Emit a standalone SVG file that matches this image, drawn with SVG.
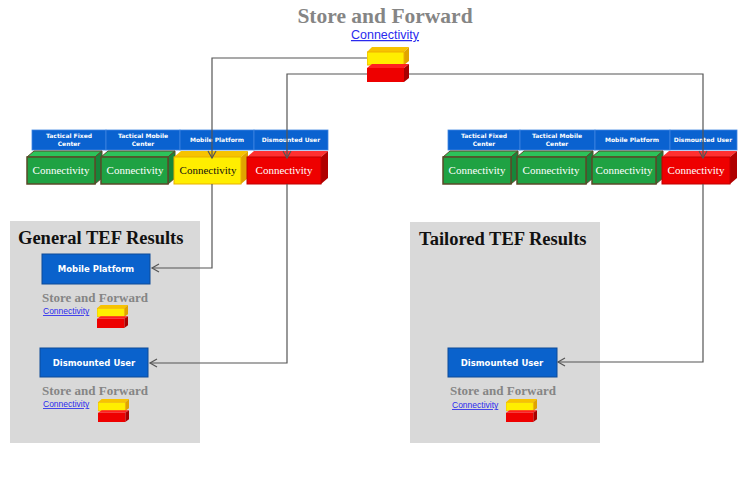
<svg xmlns="http://www.w3.org/2000/svg" xmlns:xlink="http://www.w3.org/1999/xlink" width="738" height="480" viewBox="0 0 738 480">
<style>
.title{font-family:"Liberation Serif",serif;font-weight:bold;fill:#858585}
.link{font-family:"Liberation Sans",Arial,sans-serif;fill:#2a2aee;text-decoration:underline}
.ptitle{font-family:"Liberation Serif",serif;font-weight:bold;font-size:18.5px;fill:#111}
.panel{fill:#d9d9d9}
.bluebox{fill:#0a62cc;stroke:#0c4a98;stroke-width:1}
.btext{font-family:"DejaVu Sans",sans-serif;font-weight:bold;font-size:8.5px;fill:#fff;text-anchor:middle}
.tab{fill:#0a62d0;stroke:#3f86e0;stroke-width:0.8}
.tabtext{font-family:"DejaVu Sans",sans-serif;font-weight:bold;font-size:6px;fill:#fff;text-anchor:middle}
.conn{fill:none;stroke:#555;stroke-width:1.2}
.btxt{font-family:"Liberation Serif",serif;font-size:11px;text-anchor:middle}
.gfront{fill:#1fa243;stroke:#5a4a28;stroke-width:1.5}
.gtop{fill:#2cc35a;stroke:#5a4a28;stroke-width:1}
.gside{fill:#16863a;stroke:#5a4a28;stroke-width:1}
.yfront{fill:#ffee00;stroke:#e8b000;stroke-width:1}
.ytop{fill:#f7c300}
.yside{fill:#e0a400}
.rfront{fill:#ee0000;stroke:#c00000;stroke-width:1}
.rtop{fill:#ff3030}
.rside{fill:#b00000}
</style>
<defs>
<marker id="arr" markerWidth="10" markerHeight="10" refX="8" refY="5" orient="auto" markerUnits="userSpaceOnUse">
<path d="M1,1 L8,5 L1,9" fill="none" stroke="#555" stroke-width="1.2"/>
</marker>
<symbol id="stack" viewBox="0 0 42 35" preserveAspectRatio="none">
<polygon points="0,5 5,0 42,0 37,5" fill="#f7c300"/>
<polygon points="37,5 42,0 42,14 37,18" fill="#e0a400"/>
<rect x="0" y="5" width="37" height="13" fill="#ffee00" stroke="#f0b000" stroke-width="1"/>
<polygon points="0,21 5,17 42,17 37,21" fill="#ff2020"/>
<polygon points="37,21 42,17 42,31 37,35" fill="#a80000"/>
<rect x="0" y="21" width="37" height="14" fill="#ee0000"/>
</symbol>
</defs>

<g id="header">
<text class="title" x="385" y="23" font-size="21.5" text-anchor="middle">Store and Forward</text>
<text class="link" x="385" y="39" font-size="12.5" text-anchor="middle">Connectivity</text>
<use xlink:href="#stack" href="#stack" x="367" y="47" width="42" height="35"/>
</g>

<g id="left-tabs">
<rect class="tab" x="32" y="130" width="74" height="20"/>
<text class="tabtext" x="69" y="138">Tactical Fixed</text>
<text class="tabtext" x="69" y="145.5">Center</text>
<rect class="tab" x="106" y="130" width="74" height="20"/>
<text class="tabtext" x="143" y="138">Tactical Mobile</text>
<text class="tabtext" x="143" y="145.5">Center</text>
<rect class="tab" x="180" y="130" width="74" height="20"/>
<text class="tabtext" x="217" y="142">Mobile Platform</text>
<rect class="tab" x="254" y="130" width="74" height="20"/>
<text class="tabtext" x="291" y="142">Dismounted User</text>
</g>

<g id="left-block-1">
<polygon class="gtop" points="27,157 34,151 102,151 95,157"/>
<polygon class="gside" points="95,157 102,151 102,178 95,184"/>
<rect class="gfront" x="27" y="157" width="68" height="27"/>
<text class="btxt" x="61" y="174" fill="#fff">Connectivity</text>
</g>
<g id="left-block-2">
<polygon class="gtop" points="101,157 108,151 175,151 168,157"/>
<polygon class="gside" points="168,157 175,151 175,178 168,184"/>
<rect class="gfront" x="101" y="157" width="67" height="27"/>
<text class="btxt" x="135" y="174" fill="#fff">Connectivity</text>
</g>
<g id="left-block-3">
<polygon class="ytop" points="174,157 181,151 248,151 241,157"/>
<polygon class="yside" points="241,157 248,151 248,178 241,184"/>
<rect class="yfront" x="174" y="157" width="67" height="27"/>
<text class="btxt" x="208" y="174" fill="#111">Connectivity</text>
</g>
<g id="left-block-4">
<polygon class="rtop" points="247,157 254,151 328,151 321,157"/>
<polygon class="rside" points="321,157 328,151 328,178 321,184"/>
<rect class="rfront" x="247" y="157" width="74" height="27"/>
<text class="btxt" x="284" y="174" fill="#fff">Connectivity</text>
</g>

<g id="right-tabs">
<rect class="tab" x="448" y="130" width="72" height="20"/>
<text class="tabtext" x="484" y="138">Tactical Fixed</text>
<text class="tabtext" x="484" y="145.5">Center</text>
<rect class="tab" x="520" y="130" width="75" height="20"/>
<text class="tabtext" x="557" y="138">Tactical Mobile</text>
<text class="tabtext" x="557" y="145.5">Center</text>
<rect class="tab" x="595" y="130" width="75" height="20"/>
<text class="tabtext" x="632" y="142">Mobile Platform</text>
<rect class="tab" x="670" y="130" width="67" height="20"/>
<text class="tabtext" x="703" y="142">Dismounted User</text>
</g>

<g id="right-block-1">
<polygon class="gtop" points="443,157 450,151 518,151 511,157"/>
<polygon class="gside" points="511,157 518,151 518,178 511,184"/>
<rect class="gfront" x="443" y="157" width="68" height="27"/>
<text class="btxt" x="477" y="174" fill="#fff">Connectivity</text>
</g>
<g id="right-block-2">
<polygon class="gtop" points="517,157 524,151 593,151 586,157"/>
<polygon class="gside" points="586,157 593,151 593,178 586,184"/>
<rect class="gfront" x="517" y="157" width="69" height="27"/>
<text class="btxt" x="551" y="174" fill="#fff">Connectivity</text>
</g>
<g id="right-block-3">
<polygon class="gtop" points="592,157 599,151 663,151 656,157"/>
<polygon class="gside" points="656,157 663,151 663,178 656,184"/>
<rect class="gfront" x="592" y="157" width="64" height="27"/>
<text class="btxt" x="624" y="174" fill="#fff">Connectivity</text>
</g>
<g id="right-block-4">
<polygon class="rtop" points="662,157 669,151 737,151 730,157"/>
<polygon class="rside" points="730,157 737,151 737,178 730,184"/>
<rect class="rfront" x="662" y="157" width="68" height="27"/>
<text class="btxt" x="696" y="174" fill="#fff">Connectivity</text>
</g>

<g id="general-panel">
<rect class="panel" x="10" y="221" width="190" height="222"/>
<text class="ptitle" x="18" y="244">General TEF Results</text>
</g>
<g id="gen-mobile-platform">
<rect class="bluebox" x="42" y="254" width="108" height="30"/>
<text class="btext" x="96" y="272">Mobile Platform</text>
<text class="title" x="42" y="302" font-size="13">Store and Forward</text>
<text class="link" x="43" y="314" font-size="8.5">Connectivity</text>
<use xlink:href="#stack" href="#stack" x="97" y="305" width="31" height="23"/>
</g>
<g id="gen-dismounted-user">
<rect class="bluebox" x="40" y="348" width="108" height="29"/>
<text class="btext" x="94" y="366">Dismounted User</text>
<text class="title" x="42" y="395" font-size="13">Store and Forward</text>
<text class="link" x="43" y="407" font-size="8.5">Connectivity</text>
<use xlink:href="#stack" href="#stack" x="98" y="399" width="31" height="23"/>
</g>

<g id="tailored-panel">
<rect class="panel" x="410" y="222" width="190" height="221"/>
<text class="ptitle" x="419" y="245">Tailored TEF Results</text>
</g>
<g id="tai-dismounted-user">
<rect class="bluebox" x="448" y="348" width="109" height="29"/>
<text class="btext" x="502" y="366">Dismounted User</text>
<text class="title" x="450" y="395" font-size="13">Store and Forward</text>
<text class="link" x="452" y="408" font-size="8.5">Connectivity</text>
<use xlink:href="#stack" href="#stack" x="506" y="399" width="31" height="23"/>
</g>

<g id="connectors">
<path class="conn" d="M367,58 H212 V158" marker-end="url(#arr)"/>
<path class="conn" d="M212,184 V268 H152" marker-end="url(#arr)"/>
<path class="conn" d="M367,74 H287 V158" marker-end="url(#arr)"/>
<path class="conn" d="M287,184 V363 H150" marker-end="url(#arr)"/>
<path class="conn" d="M409,74 H703 V158" marker-end="url(#arr)"/>
<path class="conn" d="M703,184 V362 H558" marker-end="url(#arr)"/>
</g>
</svg>
